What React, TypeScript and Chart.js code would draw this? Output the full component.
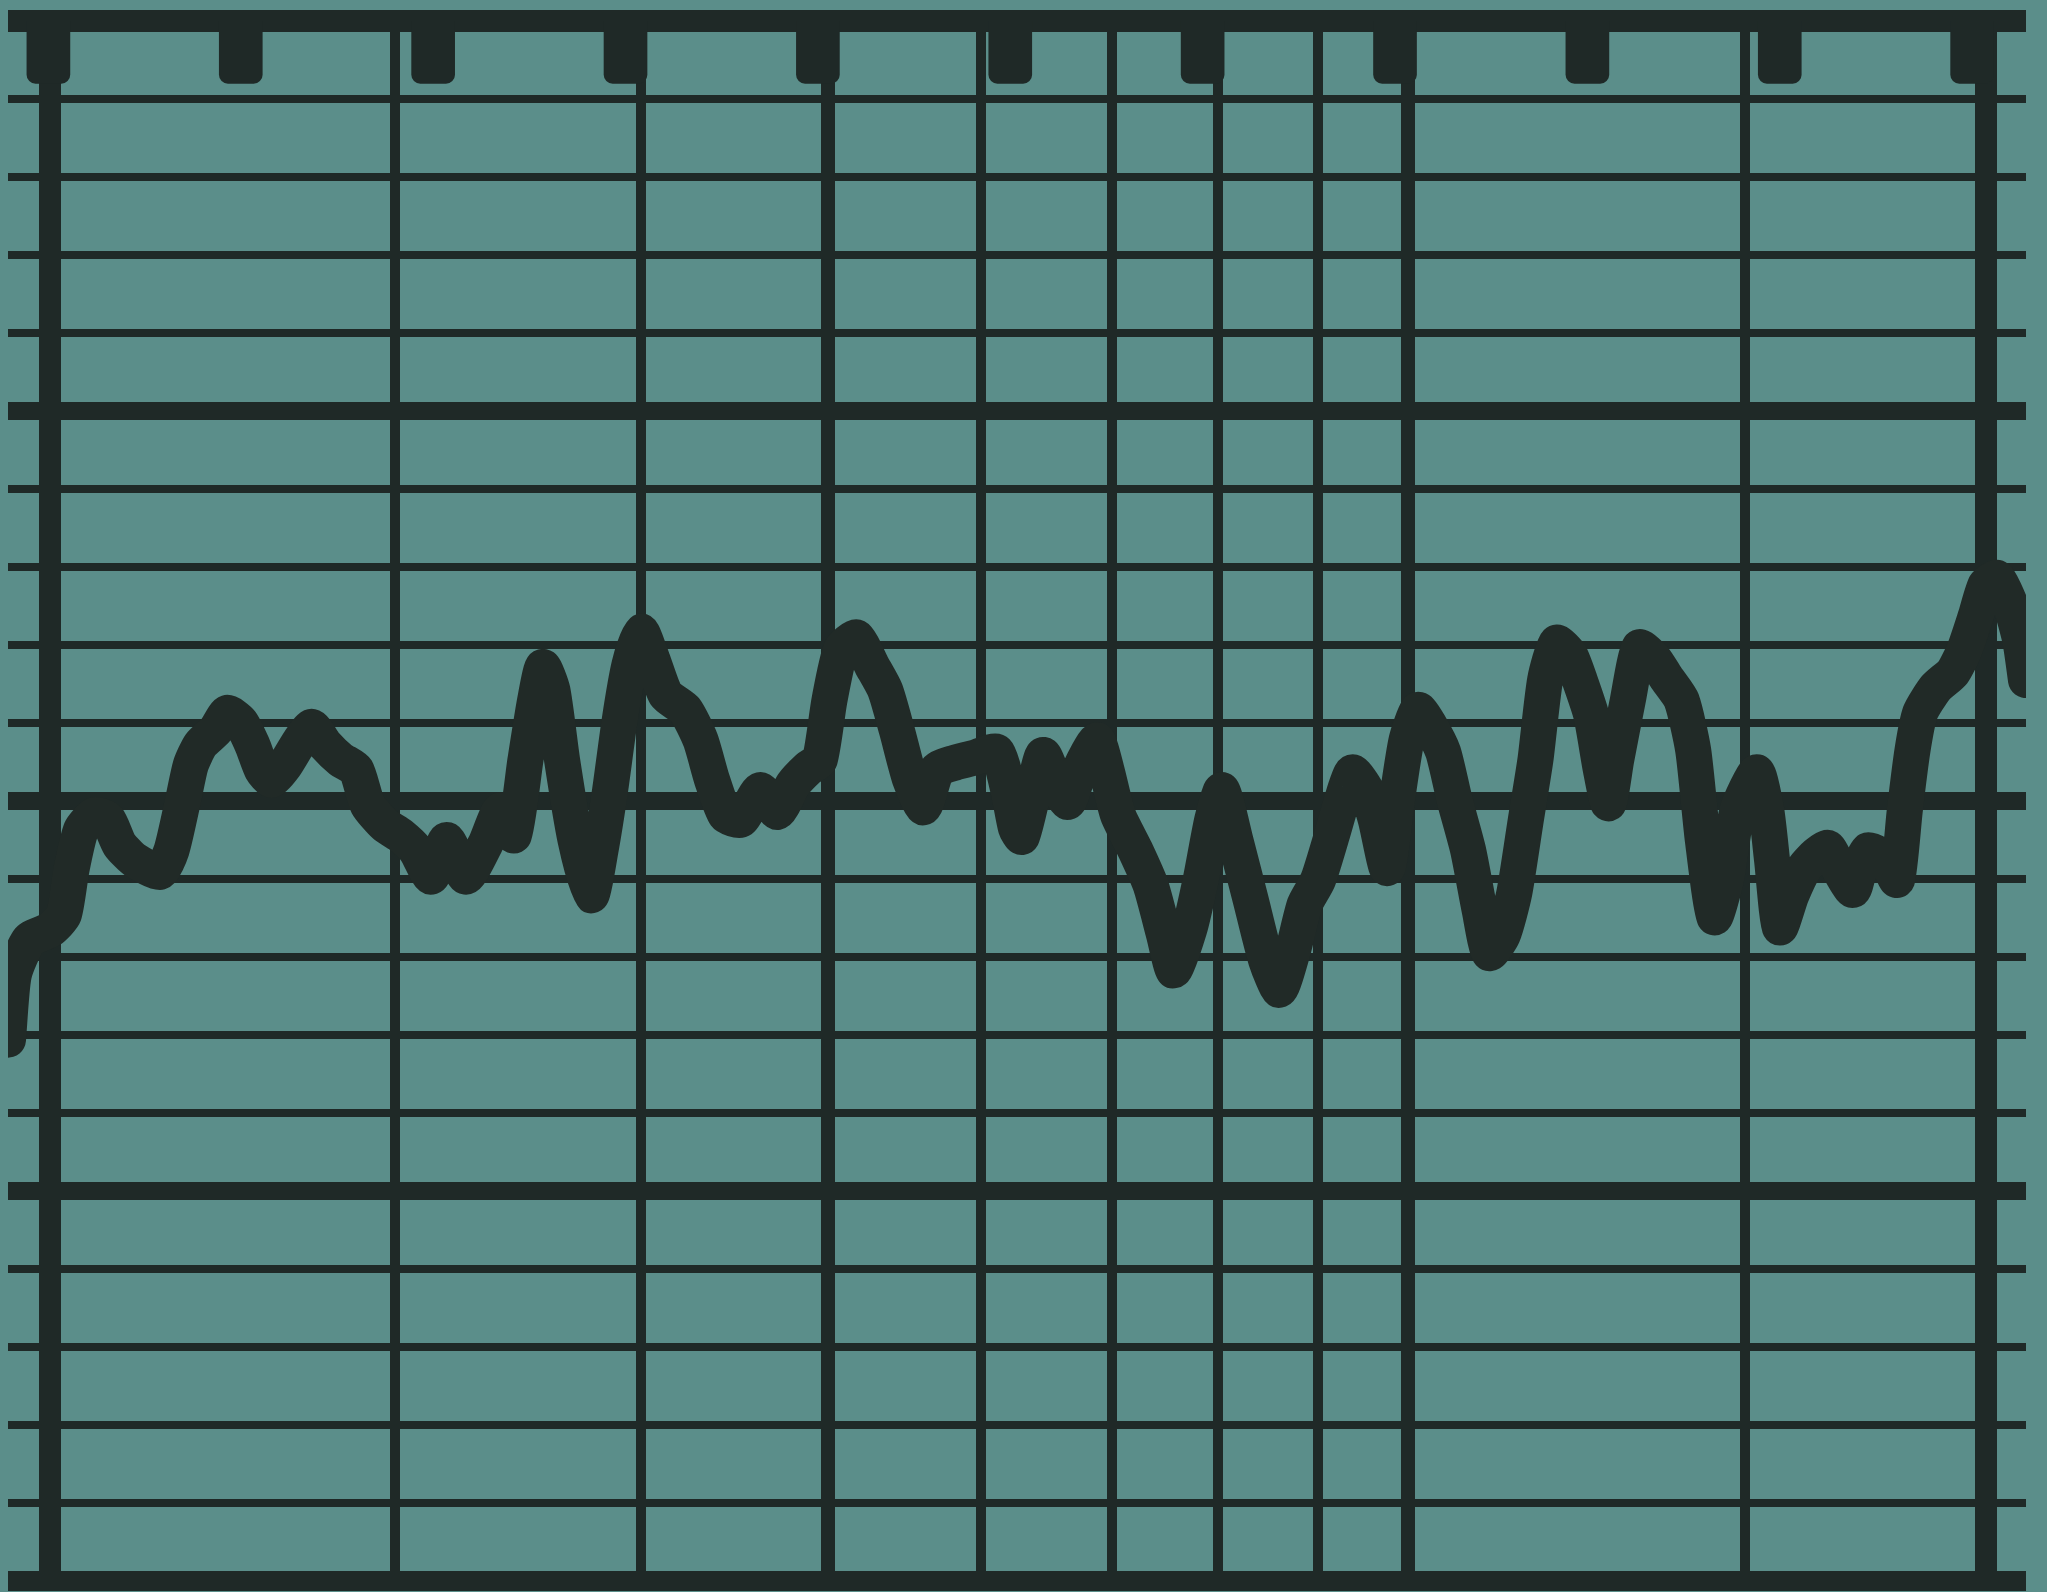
import React, { useEffect, useRef } from "react";
import { Chart, registerables } from "chart.js";

Chart.register(...registerables);

// ---- data (chart-paper units: x = minutes, y = divisions) ----
const X_MIN = -0.21;
const X_MAX = 10.28;
const Y_MIN = 0;
const Y_MAX = 20;

const traceX = [
  -0.21, -0.18, -0.1, 0.01, 0.08, 0.12, 0.17, 0.24, 0.31, 0.37,
  0.45, 0.58, 0.64, 0.7, 0.74, 0.79, 0.87, 0.93, 1.0, 1.06,
  1.11, 1.16, 1.23, 1.31, 1.37, 1.44, 1.52, 1.6, 1.66, 1.75,
  1.83, 1.91, 1.99, 2.07, 2.17, 2.27, 2.35, 2.42, 2.48, 2.53,
  2.57, 2.62, 2.67, 2.74, 2.82, 2.87, 2.92, 2.97, 3.02, 3.08,
  3.14, 3.21, 3.31, 3.39, 3.45, 3.52, 3.6, 3.7, 3.79, 3.87,
  3.95, 4.01, 4.06, 4.12, 4.2, 4.28, 4.35, 4.41, 4.48, 4.55,
  4.62, 4.71, 4.82, 4.93, 4.99, 5.03, 5.06, 5.11, 5.17, 5.23,
  5.3, 5.36, 5.45, 5.5, 5.56, 5.65, 5.73, 5.8, 5.85, 5.93,
  5.99, 6.05, 6.1, 6.17, 6.25, 6.33, 6.4, 6.47, 6.53, 6.6,
  6.68, 6.74, 6.78, 6.85, 6.9, 6.96, 7.01, 7.06, 7.12, 7.18,
  7.25, 7.31, 7.38, 7.44, 7.49, 7.56, 7.62, 7.68, 7.73, 7.78,
  7.84, 7.91, 7.96, 8.02, 8.07, 8.11, 8.15, 8.21, 8.27, 8.35,
  8.41, 8.49, 8.55, 8.6, 8.66, 8.72, 8.78, 8.88, 8.93, 8.96,
  9.0, 9.06, 9.13, 9.19, 9.25, 9.31, 9.38, 9.42, 9.46, 9.52,
  9.56, 9.61, 9.65, 9.69, 9.73, 9.81, 9.9, 9.96, 10.02, 10.07,
  10.13, 10.2, 10.25, 10.28,
];

const traceY = [
  6.94, 7.77, 8.22, 8.35, 8.54, 9.12, 9.63, 9.82, 9.76, 9.44,
  9.24, 9.09, 9.37, 10.01, 10.46, 10.72, 10.91, 11.13, 11.01, 10.72,
  10.4, 10.27, 10.46, 10.78, 10.95, 10.72, 10.53, 10.4, 9.95, 9.69,
  9.56, 9.37, 9.03, 9.5, 9.03, 9.44, 9.88, 9.56, 10.53, 11.29,
  11.72, 11.42, 10.53, 9.5, 8.79, 9.37, 10.14, 11.04, 11.74, 12.17,
  11.81, 11.36, 11.17, 10.78, 10.27, 9.82, 9.76, 10.14, 9.86, 10.21,
  10.42, 10.53, 11.29, 11.94, 12.1, 11.74, 11.42, 10.91, 10.27, 9.92,
  10.4, 10.49, 10.56, 10.63, 10.14, 9.65, 9.54, 10.01, 10.59, 10.27,
  9.99, 10.4, 10.78, 10.4, 9.82, 9.37, 8.92, 8.28, 7.83, 8.35,
  8.99, 9.76, 10.14, 9.5, 8.73, 7.96, 7.58, 8.09, 8.67, 8.99,
  9.63, 10.14, 10.37, 10.14, 9.76, 9.14, 10.01, 10.78, 11.17, 10.97,
  10.63, 10.01, 9.37, 8.6, 8.05, 8.28, 8.82, 9.76, 10.53, 11.55,
  12.03, 11.87, 11.55, 11.1, 10.4, 9.97, 10.53, 11.29, 11.97, 11.81,
  11.58, 11.29, 10.65, 9.5, 8.51, 8.99, 9.88, 10.37, 9.88, 9.24,
  8.38, 8.79, 9.15, 9.31, 9.4, 9.12, 8.86, 9.18, 9.37, 9.31,
  9.22, 8.99, 9.88, 10.65, 11.13, 11.45, 11.65, 11.94, 12.38, 12.77,
  12.86, 12.51, 12.06, 11.55,
];

// vertical rulings of the chart paper
const verticalLines = [0.01, 1.8, 3.08, 4.05, 4.85, 5.53, 6.08, 6.6, 7.07, 8.82, 10.07];
const verticalHeavy = [0.01, 10.07];
const verticalMedium = [4.05, 7.07];

// horizontal rulings
const horizontalLines = [0, 1, 2, 3, 4, 5, 6, 7, 8, 9, 10, 11, 12, 13, 14, 15, 16, 17, 18, 19, 20];
const horizontalMajor = [5, 10, 15];

// timing tabs hanging from the top rail
const tabPositions = [0, 1, 2, 3, 4, 5, 6, 7, 8, 9, 10];
const tabBottom = 19.2;
const tabTop = 20;

// ---- styles ----
const PAPER = "#5b8e8a";
const INK = "#1f2927";
const TRACE = "#212a27";

export default function App() {
  const canvasRef = useRef<HTMLCanvasElement | null>(null);

  useEffect(() => {
    const canvas = canvasRef.current;
    if (!canvas) return;

    const chart = new Chart(canvas, {
      type: "line",
      data: {
        datasets: [
          {
            type: "bar",
            label: "tabs",
            data: tabPositions.map((x) => ({ x, y: [tabBottom, tabTop] })) as any,
            backgroundColor: INK,
            borderWidth: 0,
            barThickness: 43,
            borderSkipped: false,
            borderRadius: { topLeft: 0, topRight: 0, bottomLeft: 9, bottomRight: 9 },
            order: 2,
          } as any,
          {
            type: "line",
            label: "trace",
            data: traceX.map((x, i) => ({ x, y: traceY[i] })),
            borderColor: TRACE,
            borderWidth: 36,
            borderJoinStyle: "round",
            borderCapStyle: "round",
            tension: 0.2,
            pointRadius: 0,
            fill: false,
            clip: { left: 0, right: 0, top: false, bottom: false } as any,
            order: 1,
          },
        ],
      },
      options: {
        animation: false,
        responsive: true,
        maintainAspectRatio: false,
        events: [],
        layout: { padding: { left: 8, right: 21, top: 21, bottom: 11 } },
        plugins: {
          legend: { display: false },
          tooltip: { enabled: false },
          title: { display: false },
        },
        scales: {
          x: {
            type: "linear",
            min: X_MIN,
            max: X_MAX,
            offset: false,
            ticks: { display: false },
            border: { display: false },
            grid: {
              drawTicks: false,
              offset: false,
              color: INK,
              lineWidth: (ctx: any) => {
                const v = ctx.tick ? ctx.tick.value : 0;
                if (verticalHeavy.includes(v)) return 22;
                if (verticalMedium.includes(v)) return 14;
                return 10;
              },
            },
            afterBuildTicks: (scale: any) => {
              scale.ticks = verticalLines.map((v) => ({ value: v }));
            },
          },
          y: {
            type: "linear",
            min: Y_MIN,
            max: Y_MAX,
            ticks: { display: false },
            border: { display: false },
            grid: {
              drawTicks: false,
              color: INK,
              lineWidth: (ctx: any) => {
                const v = ctx.tick ? ctx.tick.value : 0;
                if (v === Y_MAX) return 22;
                if (v === Y_MIN) return 20;
                if (horizontalMajor.includes(v)) return 18;
                return 8;
              },
            },
            afterBuildTicks: (scale: any) => {
              scale.ticks = horizontalLines.map((v) => ({ value: v }));
            },
          },
        },
      },
    });

    return () => {
      chart.destroy();
    };
  }, []);

  return (
    <div
      style={{
        position: "fixed",
        left: 0,
        top: 0,
        width: "2047px",
        height: "1592px",
        background: PAPER,
        overflow: "hidden",
      }}
    >
      <canvas ref={canvasRef} style={{ width: "100%", height: "100%" }} />
    </div>
  );
}
